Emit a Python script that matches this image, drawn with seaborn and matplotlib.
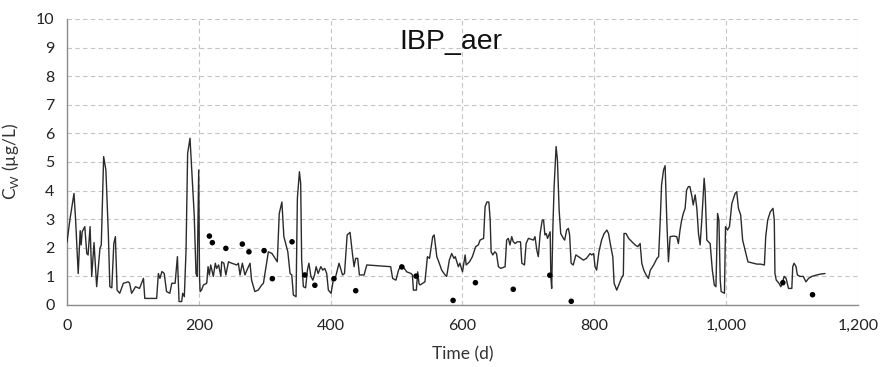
import matplotlib
matplotlib.use("Agg")
import matplotlib.pyplot as plt
import seaborn as sns
import pandas as pd
from matplotlib.ticker import FuncFormatter, MultipleLocator

# ---- data ----
sim_time = [0, 4.5, 10.6, 13, 17, 20, 21.5, 23, 27, 30, 32, 35, 37.5, 41, 45, 50, 52, 55.6, 59, 62.7,
            65, 68, 71, 73.4, 76, 80, 85.5, 93, 95, 98, 101, 104, 110, 116, 118, 126, 136, 138.6, 141, 144,
            147.5, 151, 156, 159, 164, 167.5, 170, 174, 175.5, 178, 180.6, 183, 186.6, 190.7, 193, 195.7, 197.5, 199.8, 201, 202,
            204, 207, 212, 214, 216, 218, 222, 225, 227, 230, 233.4, 234.7, 238, 241, 245, 250, 257.5, 260, 262.5, 266,
            270, 273, 277.7, 280, 285, 290, 295.4, 298, 302, 305.5, 311, 315.6, 319, 322, 326, 329, 333, 335, 338.4, 341,
            343.4, 347.5, 349.5, 352.6, 354.5, 356, 358.6, 362, 364.7, 367, 370, 373, 375.5, 378, 381, 385, 388, 391, 394, 396.5,
            400.6, 404, 407.7, 412.7, 418, 421, 425, 429.4, 433, 435.5, 437.8, 441, 443.6, 450.7, 454.8, 491, 494, 499, 503, 507,
            511, 515.4, 522, 524, 525.5, 530, 532, 534, 535.6, 543, 546.8, 550, 554.8, 557, 561, 564, 568.4, 573.6, 576, 580,
            583.6, 587, 589, 593.7, 596, 600, 604, 605.6, 610.6, 615, 620, 624, 626.7, 632, 634.3, 637, 640, 642, 643.4, 646,
            649, 651.5, 654.5, 658, 664.6, 667, 669.5, 672, 674.7, 677, 680, 683, 688, 690, 694, 696.5, 700, 707.6, 710, 712.7,
            715, 717.8, 721, 723, 725, 727, 729, 733, 734, 735.3, 737, 739, 742, 744, 746.6, 749, 753, 755, 758, 760.6,
            762.5, 764.8, 768, 772, 776, 783.5, 788, 793.6, 796, 799, 801, 803.5, 807, 811, 814.9, 819, 821.5, 825, 828, 830,
            834, 838, 841, 844, 845, 848, 852, 857, 862, 866, 869.5, 872, 875, 878.6, 882, 885, 890, 895, 897.5, 900,
            902, 905, 907.4, 910, 912.4, 915, 920, 925, 927.5, 930, 932.5, 935, 937.7, 940, 942.7, 945, 948, 950, 953, 955.5,
            958, 960.5, 963, 966.6, 968, 970.7, 973, 975.7, 979, 982, 984.5, 987, 989, 991, 992.4, 997.4, 999, 1002, 1005, 1008.6,
            1013.6, 1016, 1018.6, 1022, 1025, 1028, 1033, 1046.5, 1052, 1058, 1060, 1063, 1067, 1071, 1073, 1074, 1076, 1080, 1083, 1085,
            1088, 1091, 1094.5, 1099.6, 1101, 1103, 1106, 1108, 1112, 1117, 1121, 1125, 1130, 1137.6, 1143, 1150]
sim_conc = [2.2, 3.0, 3.9, 3.0, 1.1, 2.6, 2.1, 2.56, 2.74, 1.8, 1.75, 2.74, 1.0, 2.18, 0.64, 1.98, 2.1, 5.19, 4.72, 2.5,
            0.64, 0.6, 2.15, 2.39, 0.52, 0.41, 0.76, 0.81, 0.76, 0.41, 0.52, 0.64, 0.58, 0.93, 0.23, 0.23, 0.23, 1.1, 0.93, 1.17,
            1.1, 0.47, 0.41, 0.76, 0.76, 1.69, 0.12, 0.12, 0.41, 0.29, 1.92, 5.3, 5.83, 4.14, 3.15, 1.1, 1.0, 4.72, 1.0, 0.47,
            0.52, 0.7, 0.76, 1.34, 1.05, 1.4, 1.0, 1.46, 1.28, 1.4, 1.0, 1.51, 1.46, 1.05, 1.51, 1.46, 1.4, 1.46, 1.05, 1.46,
            1.05, 1.22, 1.46, 0.87, 0.47, 0.52, 0.7, 0.76, 1.34, 1.86, 1.8, 1.63, 1.51, 3.2, 3.6, 2.39, 2.04, 1.86, 1.1, 1.05,
            0.35, 0.29, 3.73, 4.66, 4.25, 1.57, 0.64, 0.6, 1.22, 1.46, 1.0, 0.87, 1.05, 1.34, 1.1, 1.34, 1.22, 1.28, 1.1, 0.52,
            0.41, 0.87, 1.0, 1.46, 1.05, 1.1, 2.45, 2.54, 1.8, 1.34, 1.63, 1.63, 1.05, 1.05, 1.4, 1.34, 0.93, 0.87, 1.22, 1.4,
            1.3, 1.16, 1.1, 1.05, 0.52, 0.52, 1.16, 0.75, 0.7, 0.81, 1.69, 1.63, 2.39, 2.45, 1.69, 1.51, 1.22, 1.05, 1.0, 1.57,
            1.8, 1.63, 1.69, 1.34, 1.46, 1.16, 1.75, 1.4, 1.51, 1.69, 2.04, 2.1, 2.27, 2.33, 3.44, 3.6, 3.6, 2.97, 1.86, 1.75,
            1.86, 1.8, 1.34, 1.28, 1.34, 2.27, 2.33, 2.1, 2.39, 2.21, 2.15, 2.21, 2.21, 1.46, 1.4, 2.15, 2.33, 2.27, 2.39, 1.92,
            1.69, 2.5, 2.97, 2.97, 2.45, 2.5, 2.33, 2.56, 1.0, 0.58, 2.62, 4.14, 5.54, 5.07, 3.32, 2.5, 2.33, 2.27, 2.62, 2.68,
            2.45, 1.46, 1.4, 1.75, 1.69, 1.57, 1.63, 1.8, 1.75, 1.8, 1.34, 1.22, 1.86, 2.27, 2.5, 2.62, 2.5, 2.04, 1.69, 0.76,
            0.52, 0.76, 0.93, 1.05, 2.5, 2.5, 2.33, 2.21, 2.1, 2.04, 2.15, 1.46, 1.22, 1.05, 0.93, 1.22, 1.4, 1.63, 1.69, 2.97,
            4.2, 4.72, 4.87, 2.91, 1.51, 2.39, 2.41, 2.39, 2.15, 2.62, 2.97, 3.2, 3.38, 4.02, 4.14, 4.14, 3.8, 3.5, 3.85, 3.38,
            2.5, 2.1, 2.97, 4.43, 4.02, 2.27, 2.21, 2.15, 1.22, 0.7, 0.64, 3.2, 2.97, 0.87, 0.47, 0.41, 2.74, 2.62, 2.74, 3.55,
            3.9, 3.96, 3.38, 3.15, 2.27, 1.98, 1.51, 1.43, 1.43, 1.4, 2.39, 2.97, 3.26, 3.38, 2.97, 1.1, 0.87, 0.76, 0.64, 0.76,
            1.0, 0.93, 0.58, 0.58, 1.34, 1.46, 1.34, 1.05, 1.0, 1.0, 0.81, 0.93, 1.0, 1.05, 1.08, 1.1]

obs_time = [216, 220.5, 241, 266, 276, 299, 311.5, 341.4, 360.7, 376, 405, 438, 508, 529.6, 585.7, 619.6,
            677, 732.4, 765, 1086, 1131]
obs_conc = [2.41, 2.18, 1.98, 2.13, 1.86, 1.9, 0.92, 2.21, 1.05, 0.69, 0.92, 0.5, 1.33, 1.01, 0.16, 0.78,
            0.55, 1.04, 0.13, 0.78, 0.36]

title_text = "IBP_aer"
x_label = "Time (d)"
y_label = r"C$_\mathregular{W}$ (µg/L)"

sim = pd.DataFrame({"t": sim_time, "c": sim_conc})
obs = pd.DataFrame({"t": obs_time, "c": obs_conc})

sns.set_theme(style="white")
plt.rcParams["font.family"] = ["Lato", "DejaVu Sans"]

fig = plt.figure(figsize=(8.81, 3.67), dpi=100)
ax = fig.add_axes([67 / 881, 1 - 305 / 367, (858 - 67) / 881, (305 - 19) / 367])

sns.lineplot(data=sim, x="t", y="c", ax=ax, sort=False, estimator=None,
             color="#2b2b2b", linewidth=1.0, zorder=3)
sns.scatterplot(data=obs, x="t", y="c", ax=ax, color="black", s=16,
                edgecolor="none", zorder=4)

ax.set_xlim(0, 1200)
ax.set_ylim(0, 10)
ax.xaxis.set_major_locator(MultipleLocator(200))
ax.yaxis.set_major_locator(MultipleLocator(1))
ax.xaxis.set_major_formatter(FuncFormatter(lambda v, p: f"{v:,.0f}"))

ax.grid(True, which="major", color="#c4c4c4", linestyle=(0, (4, 3)), linewidth=0.8)
ax.set_axisbelow(True)
for s in ["top", "right"]:
    ax.spines[s].set_visible(False)
for s in ["left", "bottom"]:
    ax.spines[s].set_color("#8c8c8c")
    ax.spines[s].set_linewidth(1.0)

ax.tick_params(axis="both", which="major", direction="out", length=5, width=1,
               color="#8c8c8c", labelsize=11.5, labelcolor="#222222")
ax.tick_params(axis="y", pad=4)
ax.tick_params(axis="x", pad=5)

ax.set_xlabel(x_label, fontsize=12.5, color="#333333", labelpad=10)
ax.set_ylabel(y_label, fontsize=12.5, color="#333333")
ax.yaxis.set_label_coords((21 - 67) / 791, 0.5)

ax.text(583, 8.95, title_text, ha="center", va="baseline", fontsize=20.5,
        family=["Liberation Sans", "DejaVu Sans"], color="#111111")

fig.savefig("out.png", dpi=100)
